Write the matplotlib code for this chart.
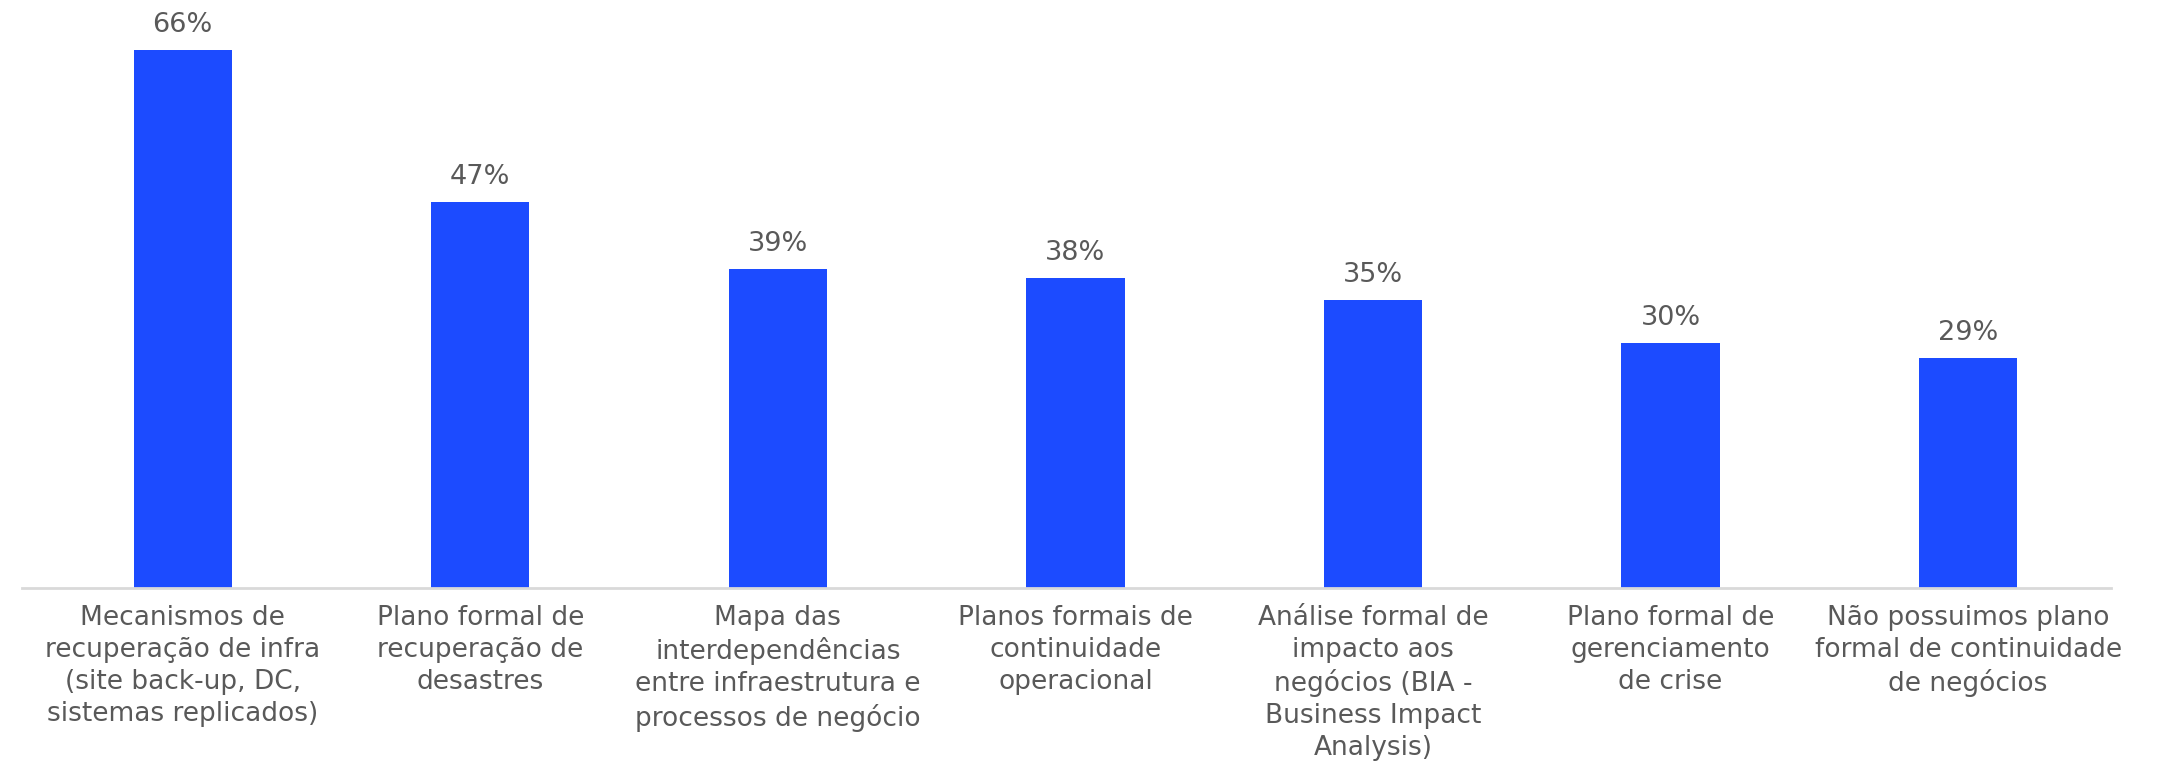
import matplotlib
matplotlib.use("Agg")
import matplotlib.pyplot as plt

categories = [
    "Mecanismos de\nrecuperação de infra\n(site back-up, DC,\nsistemas replicados)",
    "Plano formal de\nrecuperação de\ndesastres",
    "Mapa das\ninterdependências\nentre infraestrutura e\nprocessos de negócio",
    "Planos formais de\ncontinuidade\noperacional",
    "Análise formal de\nimpacto aos\nnegócios (BIA -\nBusiness Impact\nAnalysis)",
    "Plano formal de\ngerenciamento\nde crise",
    "Não possuimos plano\nformal de continuidade\nde negócios",
]
values = [66, 47.3, 39.1, 38.0, 35.3, 30.0, 28.2]
value_labels = ["66%", "47%", "39%", "38%", "35%", "30%", "29%"]

plt.rcParams['font.family'] = ['DejaVu Sans']

W, H = 2178, 763
fig = plt.figure(figsize=(W / 100, H / 100), dpi=100)
left, right = 22 / W, 2111 / W
bottom, top = 1 - 588 / H, 1 - 50 / H
ax = fig.add_axes([left, bottom, right - left, top - bottom])

x = list(range(len(values)))
ax.bar(x, values, width=0.33, color="#1c4bff", zorder=2)
ax.set_xlim(-0.54, 6.48)
ax.set_ylim(0, 66)

for xi, v, lab in zip(x, values, value_labels):
    ax.annotate(lab, (xi, v), xytext=(0, 9), textcoords="offset points",
                ha="center", va="bottom", fontsize=19.5, color="#595959")

ax.set_xticks(x)
ax.set_xticklabels(categories, fontsize=19, color="#595959", linespacing=1.3)
ax.tick_params(axis="x", length=0, pad=12)
ax.set_yticks([])
for s in ["top", "right", "left"]:
    ax.spines[s].set_visible(False)
ax.spines["bottom"].set_color("#d9d9d9")
ax.spines["bottom"].set_linewidth(2)
ax.spines["bottom"].set_zorder(3)

fig.savefig("out.png", dpi=100, facecolor="white")
